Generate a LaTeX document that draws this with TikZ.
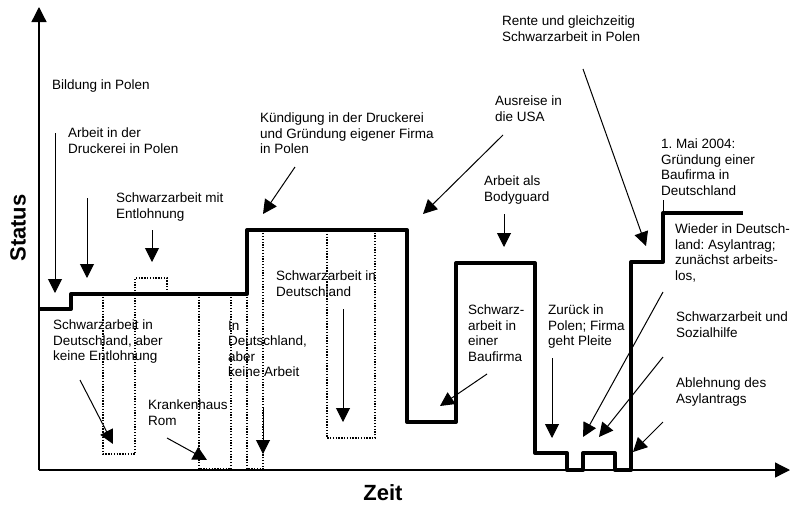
\documentclass[tikz,border=0pt]{standalone}
\usepackage{fontspec}
\setmainfont{Liberation Sans}
\usetikzlibrary{arrows.meta}
\frenchspacing
\begin{document}
\begin{tikzpicture}[x=1pt,y=-1pt,
  lbl/.style={anchor=north west, inner sep=0pt, align=left, font=\fontsize{13.5}{15.5}\selectfont\frenchspacing},
  axlbl/.style={inner sep=0pt, font=\fontsize{22}{26}\selectfont\bfseries},
  axis/.style={line width=1.3pt, -{Triangle[length=15pt,width=15pt]}},
  arr/.style={line width=1pt, -{Triangle[length=14pt,width=14pt]}},
  statusline/.style={line width=4pt, line join=round},
  dotbox/.style={line width=1.3pt, dash pattern=on 1.3pt off 1.5pt}]
\useasboundingbox (0,0) rectangle (793,504);
\fill[white] (0,0) rectangle (793,504);

% axes
\coordinate (O) at (39,470);
\coordinate (ytop) at (39,7);
\coordinate (xend) at (790,470);
\draw[axis] (O) -- (ytop);
\draw[axis] (O) -- (xend);
\node[axlbl, rotate=90] (status) at (18,228) {Status};
\node[axlbl] (zeit) at (383,493) {Zeit};

% dotted boxes
\draw[dotbox] (135,294) -- (135,278) -- (167,278) -- (167,294);
\draw[dotbox] (103,294) -- (103,454) -- (135,454) -- (135,294);
\draw[dotbox] (199,294) -- (199,469) -- (231,469) -- (231,294);
\draw[dotbox] (247,294) -- (247,469) -- (263,469) -- (263,231);
\draw[dotbox] (327,231) -- (327,438) -- (375,438) -- (375,231);

% status line
\draw[statusline] (39,309) -- (71,309) -- (71,294) -- (247,294) -- (247,230)
  -- (407,230) -- (407,422) -- (456,422) -- (456,263) -- (535,263) -- (535,453)
  -- (567,453) -- (567,470) -- (583,470) -- (583,453) -- (615,453) -- (615,470)
  -- (631,470) -- (631,262) -- (663,262) -- (663,213) -- (743,213);

% labels
\node[lbl] (bild) at (52,80) {Bildung in Polen};
\node[lbl] (druck) at (68,128) {Arbeit in der\\Druckerei in Polen};
\node[lbl] (schwmit) at (116,193) {Schwarzarbeit mit\\Entlohnung};
\node[lbl] (kuend) at (260,113) {Kündigung in der Druckerei\\und Gründung eigener Firma\\in Polen};
\node[lbl] (usa) at (495,96) {Ausreise in\\die USA};
\node[lbl] (rente) at (502,16) {Rente und gleichzeitig\\Schwarzarbeit in Polen};
\node[lbl] (body) at (484,176) {Arbeit als\\Bodyguard};
\node[lbl] (mai) at (661,139) {1. Mai 2004:\\Gründung einer\\Baufirma in\\Deutschland};
\node[lbl] (wieder) at (675,224) {Wieder in Deutsch-\\land: Asylantrag;\\zunächst arbeits-\\los,};
\node[lbl] (sozial) at (676,312) {Schwarzarbeit und\\Sozialhilfe};
\node[lbl] (ablehn) at (676,378) {Ablehnung des\\Asylantrags};
\node[lbl] (zurueck) at (548,305) {Zurück in\\Polen; Firma\\geht Pleite};
\node[lbl] (baufirma) at (468,305) {Schwarz-\\arbeit in\\einer\\Baufirma};
\node[lbl] (schwde) at (276,271) {Schwarzarbeit in\\Deutschland};
\node[lbl] (keinearb) at (228,321) {In\\Deutschland,\\aber\\keine Arbeit};
\node[lbl] (keineentl) at (53,320) {Schwarzarbeit in\\Deutschland, aber\\keine Entlohnung};
\node[lbl] (kranken) at (148,400) {Krankenhaus\\Rom};

% arrow endpoints
\coordinate (a1s) at (55,133);   \coordinate (a1e) at (55,293);
\coordinate (a2s) at (87,198);   \coordinate (a2e) at (87,278);
\coordinate (a3s) at (152,230);  \coordinate (a3e) at (152,262);
\coordinate (a4s) at (295,167);  \coordinate (a4e) at (263,214);
\coordinate (a5s) at (503,135);  \coordinate (a5e) at (423,214);
\coordinate (a6s) at (504,214);  \coordinate (a6e) at (504,247);
\coordinate (a7s) at (583,69);   \coordinate (a7e) at (646,246);
\coordinate (a8s) at (663,200);  \coordinate (a8e) at (663,213);
\coordinate (a9s) at (663,292);  \coordinate (a9e) at (583,437);
\coordinate (a10s) at (663,357); \coordinate (a10e) at (599,437);
\coordinate (a11s) at (663,422); \coordinate (a11e) at (633,452);
\coordinate (a12s) at (552,358); \coordinate (a12e) at (552,438);
\coordinate (a13s) at (487,374); \coordinate (a13e) at (440,406);
\coordinate (a14s) at (343,309); \coordinate (a14e) at (343,422);
\coordinate (a15s) at (263,407); \coordinate (a15e) at (263,454);
\coordinate (a16s) at (167,438); \coordinate (a16e) at (207,460);
\coordinate (a17s) at (80,380);  \coordinate (a17e) at (113,444);

\draw[arr] (a1s) -- (a1e);
\draw[arr] (a2s) -- (a2e);
\draw[arr] (a3s) -- (a3e);
\draw[arr] (a4s) -- (a4e);
\draw[arr] (a5s) -- (a5e);
\draw[arr] (a6s) -- (a6e);
\draw[arr] (a7s) -- (a7e);
\draw[line width=1pt] (a8s) -- (a8e);
\draw[arr] (a9s) -- (a9e);
\draw[arr] (a10s) -- (a10e);
\draw[arr] (a11s) -- (a11e);
\draw[arr] (a12s) -- (a12e);
\draw[arr] (a13s) -- (a13e);
\draw[arr] (a14s) -- (a14e);
\draw[arr] (a15s) -- (a15e);
\draw[arr] (a16s) -- (a16e);
\draw[arr] (a17s) -- (a17e);
\end{tikzpicture}
\end{document}
